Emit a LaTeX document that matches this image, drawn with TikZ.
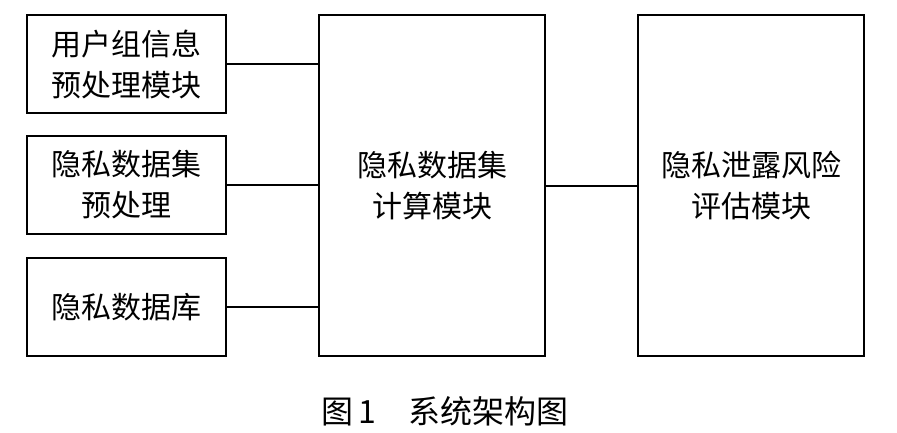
\documentclass[tikz,border=0pt]{standalone}
\usepackage{fontspec}
\setmainfont{Noto Sans CJK SC}
\begin{document}
\begin{tikzpicture}[x=1pt,y=-1pt,
    modbox/.style={draw,line width=2pt,inner sep=0pt,align=center,font=\fontsize{30}{41}\selectfont},
    sidebox/.style={modbox,minimum width=199pt,minimum height=98pt},
    bigbox/.style={modbox,minimum width=226pt,minimum height=341pt},
    link/.style={line width=2pt}]
    \useasboundingbox (0,0) rectangle (897,433);
    \node[sidebox] (user) at (126.5,64) {用户组信息\\预处理模块};
    \node[sidebox] (prep) at (126.5,185) {隐私数据集\\预处理};
    \node[sidebox] (db) at (126.5,307) {隐私数据库};
    \node[bigbox] (calc) at (432,185.5) {隐私数据集\\计算模块};
    \node[bigbox] (risk) at (751,185.5) {隐私泄露风险\\评估模块};
    \foreach \n in {user,prep,db}
        \draw[link] (\n.east) -- (\n.east -| calc.west);
    \draw[link] (calc.east) -- (risk.west);
    \node[font=\fontsize{32}{36}\selectfont] (cap) at (445,411) {图\,1\quad 系统架构图};
\end{tikzpicture}
\end{document}
